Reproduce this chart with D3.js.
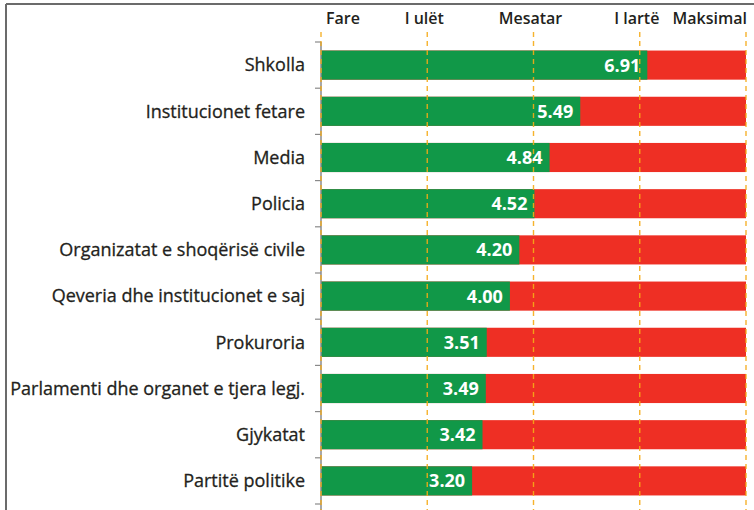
<!DOCTYPE html>
<html>
<head>
<meta charset="utf-8">
<script src="https://cdn.jsdelivr.net/npm/d3@7"></script>
<style>
  body { margin: 0; background: #fff; }
  svg { display: block; font-family: "Open Sans", "Noto Sans", sans-serif; }
</style>
</head>
<body>
<div id="chart"></div>
<script>
// Chart data
var categories = [
  "Shkolla",
  "Institucionet fetare",
  "Media",
  "Policia",
  "Organizatat e shoqërisë civile",
  "Qeveria dhe institucionet e saj",
  "Prokuroria",
  "Parlamenti dhe organet e tjera legj.",
  "Gjykatat",
  "Partitë politike"
];
var values = [6.91, 5.49, 4.84, 4.52, 4.20, 4.00, 3.51, 3.49, 3.42, 3.20];
var maxValue = 9;
var levelLabels = ["Fare", "I ulët", "Mesatar", "I lartë", "Maksimal"];
var levelValues = [0, 2.25, 4.5, 6.75, 9];

var svgWidth = 754;
var svgHeight = 510;

var svg = d3.select("#chart")
  .append("svg")
  .attr("width", svgWidth)
  .attr("height", svgHeight);

// frame lines (top and left)
svg.append("line")
  .attr("x1", 6).attr("x2", svgWidth)
  .attr("y1", 4).attr("y2", 4)
  .attr("stroke", "#6b6b6b").attr("stroke-width", 2);
svg.append("line")
  .attr("x1", 6).attr("x2", 6)
  .attr("y1", 4).attr("y2", svgHeight)
  .attr("stroke", "#6b6b6b").attr("stroke-width", 2);

// scales
var x = d3.scaleLinear()
  .domain([0, maxValue])
  .range([321, 746]);

var y = d3.scaleBand()
  .domain(categories)
  .range([42, 504])
  .paddingInner(0.37)
  .paddingOuter(0.185);

var step = y.step();
var bandTop = 42;

// red remainder bars
svg.append("g").selectAll("rect")
  .data(categories)
  .enter()
  .append("rect")
  .attr("x", x(0))
  .attr("y", d => y(d))
  .attr("width", x(maxValue) - x(0))
  .attr("height", y.bandwidth())
  .attr("fill", "#ee2f24");

// green value bars
svg.append("g").selectAll("rect")
  .data(values)
  .enter()
  .append("rect")
  .attr("x", x(0))
  .attr("y", (d, i) => y(categories[i]))
  .attr("width", d => x(d) - x(0))
  .attr("height", y.bandwidth())
  .attr("fill", "#119848");

// left axis line with ticks at band edges
var axisG = svg.append("g");
axisG.append("line")
  .attr("x1", x(0)).attr("x2", x(0))
  .attr("y1", bandTop).attr("y2", svgHeight)
  .attr("stroke", "#8a8a8a").attr("stroke-width", 1.5);
axisG.selectAll("line.tick")
  .data(d3.range(categories.length + 1))
  .enter()
  .append("line")
  .attr("class", "tick")
  .attr("x1", x(0) - 6).attr("x2", x(0))
  .attr("y1", i => bandTop + i * step)
  .attr("y2", i => bandTop + i * step)
  .attr("stroke", "#8a8a8a").attr("stroke-width", 1.2);

// category labels
svg.append("g").selectAll("text")
  .data(categories)
  .enter()
  .append("text")
  .attr("x", 305)
  .attr("y", d => y(d) + y.bandwidth() / 2)
  .attr("dy", "0.35em")
  .attr("text-anchor", "end")
  .attr("font-size", 18)
  .attr("fill", "#231f20")
  .attr("stroke", "#231f20")
  .attr("stroke-width", 0.3)
  .text(d => d);

// dashed level lines
svg.append("g").selectAll("line")
  .data(levelValues)
  .enter()
  .append("line")
  .attr("x1", d => x(d)).attr("x2", d => x(d))
  .attr("y1", 32).attr("y2", svgHeight)
  .attr("stroke", "#f6ab17")
  .attr("stroke-width", 1.4)
  .attr("stroke-dasharray", "5,4")
  .attr("opacity", 0.9);

// level labels on top
svg.append("g").selectAll("text")
  .data(levelLabels)
  .enter()
  .append("text")
  .attr("x", (d, i) => i === 0 ? x(levelValues[i]) + 5 : (i === levelLabels.length - 1 ? x(levelValues[i]) + 1 : x(levelValues[i]) - 3))
  .attr("y", 24)
  .attr("text-anchor", (d, i) => i === 0 ? "start" : (i === levelLabels.length - 1 ? "end" : "middle"))
  .attr("font-size", 16)
  .attr("font-weight", 600)
  .attr("fill", "#231f20")
  .text(d => d);

// value labels
svg.append("g").selectAll("text")
  .data(values)
  .enter()
  .append("text")
  .attr("x", d => x(d) - 7)
  .attr("y", (d, i) => y(categories[i]) + y.bandwidth() / 2)
  .attr("dy", "0.36em")
  .attr("text-anchor", "end")
  .attr("font-size", 18)
  .attr("font-weight", 700)
  .attr("fill", "#fff")
  .text(d => d.toFixed(2));
</script>
</body>
</html>
